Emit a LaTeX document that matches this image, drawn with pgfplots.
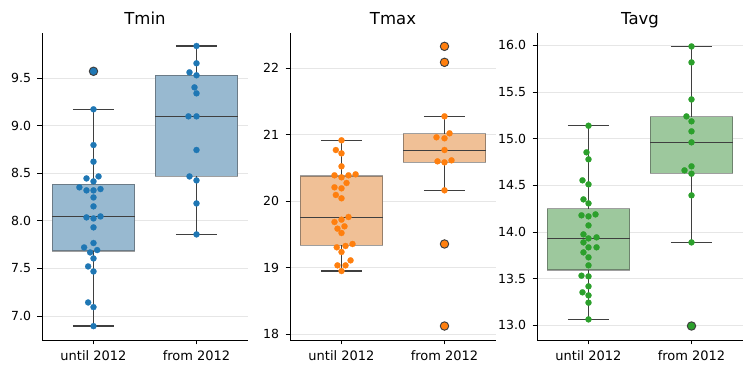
\documentclass[border=0pt]{standalone}
\usepackage{fontspec}
\setmainfont{DejaVu Sans}
\usepackage{pgfplots}
\pgfplotsset{compat=1.18}
\definecolor{tabblue}{HTML}{1F77B4}
\definecolor{taborange}{HTML}{FF7F0E}
\definecolor{tabgreen}{HTML}{2CA02C}
\definecolor{bfill}{RGB}{152,185,208}
\definecolor{ofill}{RGB}{240,192,150}
\definecolor{gfill}{RGB}{157,200,157}
\definecolor{dgray}{RGB}{63,63,63}
\definecolor{gridc}{RGB}{230,230,230}
\pgfplotsset{
  panel/.style={
    scale only axis, width=206pt, height=307.3pt, anchor=south west,
    axis lines=left, axis line style={-, line width=0.8pt, black},
    xmin=-0.5, xmax=1.5, xtick={0,1}, xticklabels={until 2012, from 2012},
    enlargelimits=false,
    tick align=outside, major tick length=4.5pt, tick style={black, line width=0.8pt},
    ymajorgrids, major grid style={gridc, line width=0.8pt},
    yticklabel style={font=\fontsize{12.5}{14}\selectfont, xshift=-3pt},
    xticklabel style={font=\fontsize{13}{15}\selectfont, yshift=-3pt},
    /pgf/number format/assume math mode=true,
    title style={at={(0.5,1)}, anchor=base, yshift=1.7pt, font=\fontsize{16.5}{18}\selectfont},
    clip=false,
  },
  swarm/.style={only marks, mark=*, mark size=3.05pt, mark options={draw=#1, fill=#1, line width=0.2pt}},
  flier/.style={only marks, mark=*, mark size=4.2pt, mark options={draw=dgray, fill=#1, line width=1pt}},
  boxs/.style={fill=#1, draw=dgray, draw opacity=0.5, line width=1.3pt, mark=none},
  wl/.style={draw=dgray, line width=1.4pt, mark=none},
}
% box at position 0: #1 lower whisker, #2 Q1, #3 median, #4 Q3, #5 upper whisker, #6 fill
\newcommand{\boxA}[6]{%
\addplot[boxs=#6] coordinates {(-0.4,#2) (0.4,#2) (0.4,#4) (-0.4,#4) (-0.4,#2)} -- cycle;
\addplot[wl] coordinates {(0,#1) (0,#2)};
\addplot[wl] coordinates {(0,#4) (0,#5)};
\addplot[wl] coordinates {(-0.2,#1) (0.2,#1)};
\addplot[wl] coordinates {(-0.2,#5) (0.2,#5)};
\addplot[wl] coordinates {(-0.4,#3) (0.4,#3)};
}
\newcommand{\boxB}[6]{%
\addplot[boxs=#6] coordinates {(0.6,#2) (1.4,#2) (1.4,#4) (0.6,#4) (0.6,#2)} -- cycle;
\addplot[wl] coordinates {(1,#1) (1,#2)};
\addplot[wl] coordinates {(1,#4) (1,#5)};
\addplot[wl] coordinates {(0.8,#1) (1.2,#1)};
\addplot[wl] coordinates {(0.8,#5) (1.2,#5)};
\addplot[wl] coordinates {(0.6,#3) (1.4,#3)};
}
\begin{document}
\begin{tikzpicture}
\useasboundingbox (0,0) rectangle (749pt,374pt);
% ---------------- Tmin
\begin{axis}[panel, at={(42pt,34pt)}, title={Tmin},
  ymin=6.747, ymax=9.98, ytick={7.0,7.5,8.0,8.5,9.0,9.5},
  yticklabel style={/pgf/number format/fixed, /pgf/number format/fixed zerofill, /pgf/number format/precision=1}]
\boxA{6.893}{7.682}{8.047}{8.384}{9.174}{bfill}
\boxB{7.858}{8.468}{9.100}{9.532}{9.840}{bfill}
\addplot[flier=tabblue] coordinates {(0,9.574)};
\addplot[swarm=tabblue] coordinates {
(0,9.574) (0,9.174) (0,8.798) (0,8.623) (-0.068,8.447) (0.049,8.468) (0,8.416)
(-0.137,8.353) (-0.068,8.321) (0,8.321) (0.068,8.335) (0,8.247) (0,8.153)
(-0.068,8.037) (0,8.026) (0.068,8.047) (0,7.932) (0,7.767) (-0.091,7.721)
(-0.0325,7.668) (0.0358,7.693) (0,7.605) (-0.052,7.521) (0,7.468) (-0.052,7.142)
(0,7.093) (0,6.893)};
\addplot[swarm=tabblue] coordinates {
(1,9.840) (1,9.658) (0.932,9.563) (1,9.532) (0.9805,9.405) (1,9.342) (0.922,9.100)
(1,9.100) (1,8.746) (0.932,8.468) (1,8.426) (1,8.184) (1,7.858)};
\end{axis}
% ---------------- Tmax
\begin{axis}[panel, at={(290pt,34pt)}, title={Tmax},
  ymin=17.915, ymax=22.53, ytick={18,19,20,21,22}]
\boxA{18.951}{19.337}{19.757}{20.378}{20.914}{ofill}
\boxB{20.163}{20.583}{20.763}{21.014}{21.274}{ofill}
\addplot[flier=taborange] coordinates {(1,22.325) (1,22.085) (1,19.357) (1,18.125)};
\addplot[swarm=taborange] coordinates {
(0,20.914) (-0.055,20.768) (0,20.718) (0,20.523) (-0.068,20.388) (0,20.358) (0.068,20.388)
(0.137,20.403) (0.049,20.273) (-0.068,20.208) (0,20.193) (-0.055,20.093) (0,20.043)
(0.068,19.762) (0,19.722) (-0.068,19.687) (0.029,19.622) (-0.039,19.587) (0,19.522)
(-0.046,19.307) (0.039,19.327) (0.107,19.357) (0,19.237) (-0.039,19.036) (0.039,19.036)
(0.088,19.111) (0,18.951)};
\addplot[swarm=taborange] coordinates {
(1,22.325) (1,22.085) (1,21.274) (0.922,20.959) (1,20.944) (1.049,21.019) (1,20.768)
(0.932,20.598) (1,20.583) (1.068,20.613) (1,20.163) (1,19.357) (1,18.125)};
\end{axis}
% ---------------- Tavg
\begin{axis}[panel, at={(537pt,34pt)}, title={Tavg},
  ymin=12.843, ymax=16.136, ytick={13.0,13.5,14.0,14.5,15.0,15.5,16.0},
  yticklabel style={/pgf/number format/fixed, /pgf/number format/fixed zerofill, /pgf/number format/precision=1}]
\boxA{13.064}{13.593}{13.932}{14.250}{15.139}{gfill}
\boxB{13.889}{14.629}{14.961}{15.236}{15.989}{gfill}
\addplot[flier=tabgreen] coordinates {(1,12.993)};
\addplot[swarm=tabgreen] coordinates {
(0,15.139) (-0.0195,14.854) (0,14.779) (-0.0585,14.554) (0,14.511) (-0.049,14.350)
(0,14.307) (-0.068,14.179) (0,14.168) (0.068,14.189) (0,14.071) (-0.049,13.975)
(0,13.932) (0.078,13.943) (-0.049,13.889) (0,13.836) (0.078,13.836) (-0.049,13.782)
(0,13.729) (0,13.643) (-0.068,13.532) (0,13.525) (0,13.418) (-0.0585,13.354)
(0,13.321) (0,13.243) (0,13.064)};
\addplot[swarm=tabgreen] coordinates {
(1,15.989) (1,15.818) (1,15.421) (0.951,15.239) (1,15.186) (1,15.079) (1,14.961)
(1,14.704) (0.932,14.661) (1,14.625) (1,14.393) (1,13.889) (1,12.993)};
\end{axis}
\end{tikzpicture}
\end{document}
